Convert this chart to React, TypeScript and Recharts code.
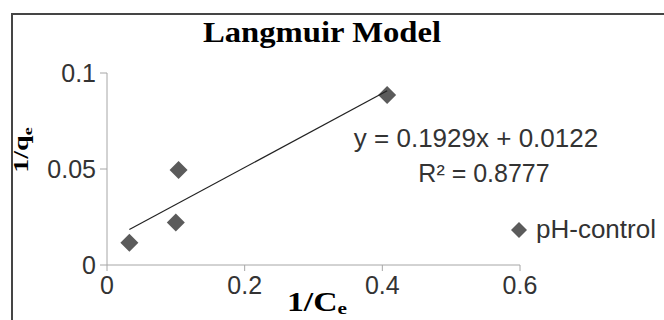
import { ScatterChart, Scatter, XAxis, YAxis } from "recharts"

// 1/Ce vs 1/qe
const invCe = [0.0325, 0.1, 0.104, 0.407]
const invQe = [0.0116, 0.0222, 0.0495, 0.0885]
const xTicks = [0, 0.2, 0.4, 0.6]
const yTicks = [0, 0.05, 0.1]
const slope = 0.1929
const intercept = 0.0122
const seriesName = "pH-control"
const chartTitle = "Langmuir Model"
const equationText = "y = 0.1929x + 0.0122"
const r2Text = "R\u00b2 = 0.8777"

const points = invCe.map((x, i) => ({ x, y: invQe[i] }))
const xMin = Math.min(...invCe)
const xMax = Math.max(...invCe)
const trend = [
  { x: xMin, y: slope * xMin + intercept },
  { x: xMax, y: slope * xMax + intercept },
]

const sans = "'Liberation Sans', Arial, sans-serif"
const serif = "'Liberation Serif', 'Times New Roman', serif"
const markerColor = "#5b5b5b"

const Diamond = (props: any) => {
  const { cx, cy } = props
  const r = 9
  return <path d={`M${cx},${cy - r}L${cx + r},${cy}L${cx},${cy + r}L${cx - r},${cy}Z`} fill={markerColor} />
}

const tickStyle = { fill: "#333", fontSize: 25, fontFamily: sans }

export default function App() {
  return (
    <div style={{ position: "absolute", left: 0, top: 0, width: 664, height: 320, overflow: "hidden", background: "#fff" }}>
      <div style={{ position: "absolute", left: 11, top: 13, width: 700, height: 400, border: "2px solid #454545" }} />
      <div style={{ position: "absolute", left: 0, top: 0 }}>
        <ScatterChart width={664} height={320} margin={{ top: 73, right: 144, bottom: 0, left: 0 }}>
          <XAxis
            type="number"
            dataKey="x"
            domain={[0, 0.6]}
            ticks={xTicks}
            height={55}
            stroke="#a6a6a6"
            tick={tickStyle}
            tickSize={6}
            tickMargin={5}
          />
          <YAxis
            type="number"
            dataKey="y"
            domain={[0, 0.1]}
            ticks={yTicks}
            width={107}
            stroke="#a6a6a6"
            tick={tickStyle}
            tickSize={7}
            tickMargin={4}
          />
          <Scatter name={seriesName} data={points} shape={Diamond} isAnimationActive={false} />
          <Scatter
            data={trend}
            line={{ stroke: "#222", strokeWidth: 1.2 }}
            shape={() => <g />}
            legendType="none"
            isAnimationActive={false}
          />
        </ScatterChart>
      </div>
      <svg width={664} height={320} style={{ position: "absolute", left: 0, top: 0, pointerEvents: "none" }}>
        <text transform="translate(322,42) scale(1.09,1)" textAnchor="middle" fontFamily={serif} fontWeight="bold" fontSize={30} fill="#000">
          {chartTitle}
        </text>
        <text transform="translate(28,150) rotate(-90) scale(1.4,1)" textAnchor="middle" fontFamily={serif} fontWeight="bold" fontSize={20} fill="#000">
          1/q<tspan fontSize={13} dy="0.3em">e</tspan>
        </text>
        <text transform="translate(317,311) scale(1.25,1)" textAnchor="middle" fontFamily={serif} fontWeight="bold" fontSize={27} fill="#000">
          1/C<tspan fontSize={17} dy="0.2em">e</tspan>
        </text>
        <text x={476} y={147} textAnchor="middle" fontFamily={sans} fontSize={26} fill="#333">
          {equationText}
        </text>
        <text x={484} y={182} textAnchor="middle" fontFamily={sans} fontSize={25} fill="#333">
          {r2Text}
        </text>
        <path d="M519,222L527,230L519,238L511,230Z" fill={markerColor} />
        <text x={536} y={238} fontFamily={sans} fontSize={26} fill="#333">
          {seriesName}
        </text>
      </svg>
    </div>
  )
}
